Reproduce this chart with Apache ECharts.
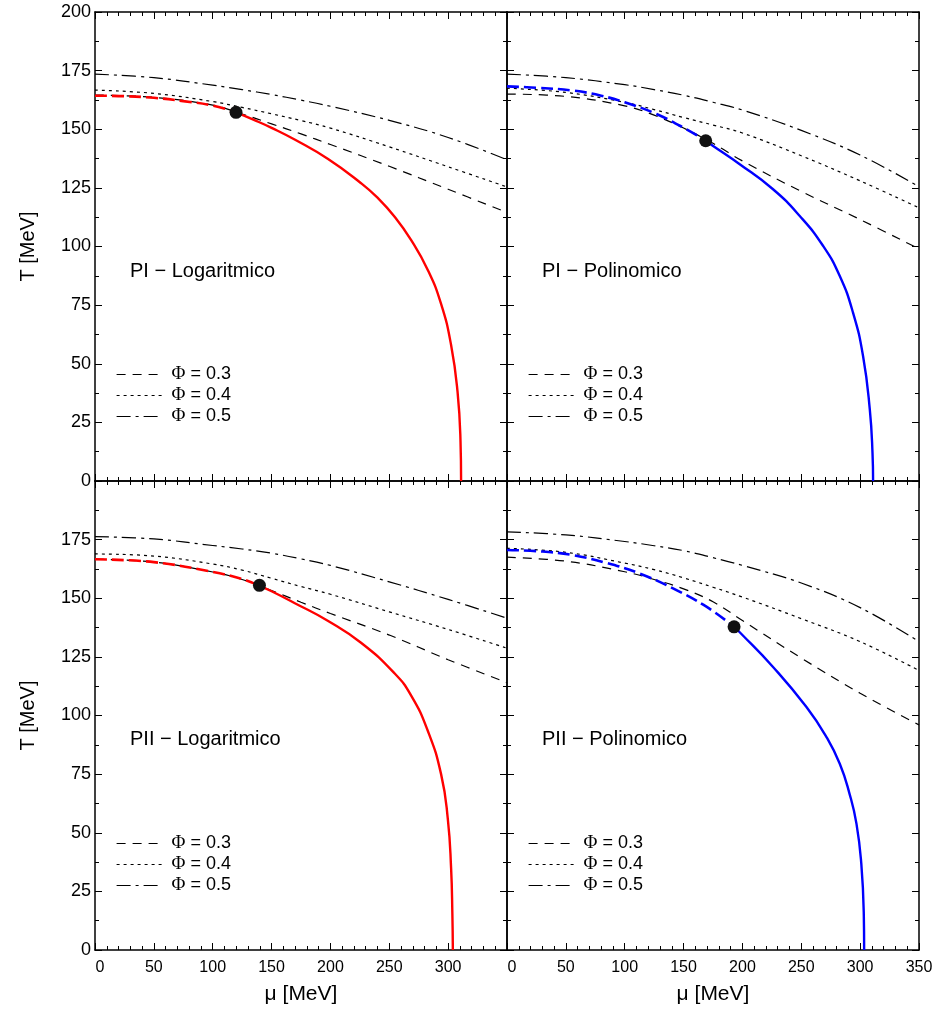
<!DOCTYPE html>
<html>
<head>
<meta charset="utf-8">
<script src="https://cdn.jsdelivr.net/npm/echarts@6/dist/echarts.min.js"></script>
<style>
html,body{margin:0;padding:0;background:#fff;}
#c{width:936px;height:1012px;}
</style>
</head>
<body>
<div id="c"></div>
<script>
// ---------------- data ----------------
const xTicks = [0, 50, 100, 150, 200, 250, 300, 350];
const yTicks = [0, 25, 50, 75, 100, 125, 150, 175, 200];
const panelLabels = ['PI \u2212 Logaritmico', 'PI \u2212 Polinomico', 'PII \u2212 Logaritmico', 'PII \u2212 Polinomico'];
const phiNames = ['\u03A6 = 0.3', '\u03A6 = 0.4', '\u03A6 = 0.5'];

const muGrid = [0, 50, 100, 125, 150, 175, 200, 250, 300, 350];

// Panel 1: PI - Logaritmico
const p1Phi03 = [164.6, 163.6, 160.3, 156.5, 152.3, 148.0, 143.5, 134.2, 124.4, 114.5];
const p1Phi04 = [166.7, 165.3, 161.8, 159.3, 156.6, 153.7, 150.5, 142.5, 134.0, 125.4];
const p1Phi05 = [173.5, 172.0, 168.8, 166.9, 164.8, 162.4, 159.8, 153.8, 146.5, 137.0];
const p1CoMu = [0, 25, 50, 75, 100, 119.8];
const p1CoT  = [164.3, 164.1, 163.4, 162.0, 160.1, 157.2];
const p1FoMu = [119.8, 135, 150, 170, 198, 226, 240, 254, 268.6, 282.7, 294, 302.5, 308, 310.5, 311];
const p1FoT  = [157.2, 154.0, 150.6, 145.5, 137.3, 127.0, 120.8, 113.0, 102.7, 90.0, 75.5, 58.0, 38.0, 17.0, 0];
const p1Crit = [119.8, 157.2];

// Panel 2: PI - Polinomico
const p2Phi03 = [165.0, 164.0, 160.0, 156.0, 150.5, 144.0, 136.5, 123.5, 111.5, 99.0];
const p2Phi04 = [167.5, 165.7, 161.5, 158.4, 155.0, 151.8, 148.4, 138.7, 128.0, 116.5];
const p2Phi05 = [173.5, 172.0, 169.0, 166.9, 164.5, 161.5, 158.2, 149.5, 139.0, 125.5];
const p2CoMu = [0, 25, 56, 80, 100, 127, 152, 168.8];
const p2CoT  = [168.3, 167.7, 166.5, 164.3, 161.5, 156.5, 150.1, 145.1];
const p2FoMu = [168.8, 174.5, 197.7, 226, 248.7, 268.6, 282.7, 294, 302.5, 308.2, 310.5, 311];
const p2FoT  = [145.1, 143.1, 135.1, 124.4, 113.0, 100.2, 87.4, 71.7, 53.2, 30.5, 12.0, 0];
const p2Crit = [168.8, 145.1];

// Panel 3: PII - Logaritmico
const p3Phi03 = [166.6, 165.4, 161.2, 158.0, 153.3, 148.3, 143.5, 134.3, 123.8, 114.0];
const p3Phi04 = [168.9, 168.0, 164.6, 162.0, 158.5, 155.0, 151.7, 144.2, 136.7, 128.7];
const p3Phi05 = [176.3, 175.3, 172.5, 171.0, 169.2, 166.8, 164.0, 157.0, 149.5, 141.5];
const p3CoMu = [0, 50, 100, 125, 139.7];
const p3CoT  = [166.6, 165.4, 161.2, 158.2, 155.3];
const p3FoMu = [139.7, 150, 169.4, 197.7, 226, 254.4, 268.6, 282.7, 294, 299.7, 302.5, 303.6, 304];
const p3FoT  = [155.3, 153.0, 148.0, 140.4, 131.0, 118.0, 108.5, 93.5, 75.0, 56.0, 35.0, 15.0, 0];
const p3Crit = [139.7, 155.5];

// Panel 4: PII - Polinomico
const p4Phi03 = [167.5, 165.8, 161.3, 158.0, 154.0, 148.5, 140.5, 124.5, 109.5, 96.0];
const p4Phi04 = [171.3, 169.6, 165.0, 162.2, 158.7, 154.7, 150.5, 141.3, 131.5, 119.2];
const p4Phi05 = [178.3, 177.0, 174.2, 172.4, 170.3, 167.3, 164.0, 156.5, 146.0, 131.5];
const p4CoMu = [0, 28, 56, 85, 113, 141, 169.4, 192.9];
const p4CoT  = [170.6, 170.0, 168.4, 165.0, 160.5, 154.2, 146.4, 137.8];
const p4FoMu = [192.9, 197.7, 226, 254.4, 271.4, 282.7, 291, 296.9, 301, 303.1, 303.4];
const p4FoT  = [137.8, 135.5, 120.7, 103.6, 90.8, 79.4, 66.6, 53.8, 36.7, 15.3, 0];
const p4Crit = [192.9, 137.8];

// ---------------- build ----------------
const FONT = 'Liberation Sans, Arial, sans-serif';
const panels = [
  {phi: [p1Phi03, p1Phi04, p1Phi05], coMu: p1CoMu, coT: p1CoT, foMu: p1FoMu, foT: p1FoT, crit: p1Crit, color: '#ff0000'},
  {phi: [p2Phi03, p2Phi04, p2Phi05], coMu: p2CoMu, coT: p2CoT, foMu: p2FoMu, foT: p2FoT, crit: p2Crit, color: '#0000ff'},
  {phi: [p3Phi03, p3Phi04, p3Phi05], coMu: p3CoMu, coT: p3CoT, foMu: p3FoMu, foT: p3FoT, crit: p3Crit, color: '#ff0000'},
  {phi: [p4Phi03, p4Phi04, p4Phi05], coMu: p4CoMu, coT: p4CoT, foMu: p4FoMu, foT: p4FoT, crit: p4Crit, color: '#0000ff'}
];
const grids = [
  {left: 95, top: 12, width: 412, height: 469},
  {left: 507, top: 12, width: 412, height: 469},
  {left: 95, top: 481, width: 412, height: 469},
  {left: 507, top: 481, width: 412, height: 469}
];
const phiDash = [[9, 7], [3, 4], [14, 5, 3, 5]];

const zip = (a, b) => a.map((v, i) => [v, b[i]]);

const axisLine = {show: true, onZero: false, lineStyle: {color: '#000', width: 1.5}};
const tick = {show: true, inside: true, length: 7, lineStyle: {color: '#000', width: 1}};

const xAxes = [], yAxes = [], series = [], titles = [], legends = [];
grids.forEach((g, i) => {
  const bottomRow = i >= 2;
  const leftCol = i % 2 === 0;
  xAxes.push({
    type: 'value', gridIndex: i, position: 'bottom', min: xTicks[0], max: xTicks[xTicks.length - 1], interval: 50,
    axisLine, axisTick: tick,
    minorTick: {show: true, splitNumber: 5, length: 4, lineStyle: {color: '#000', width: 1}},
    splitLine: {show: false},
    axisLabel: {
      show: bottomRow, margin: 10, color: '#000', fontSize: 16, fontFamily: FONT,
      showMinLabel: true, showMaxLabel: true,
      formatter: v => (v === 0 ? '{z|0}' : (leftCol && v === 350 ? '' : String(v))),
      rich: {z: {padding: [0, 0, 0, 10], fontSize: 16, fontFamily: FONT, color: '#000'}}
    },
    name: bottomRow ? '\u03BC [MeV]' : '', nameLocation: 'middle', nameGap: 34,
    nameTextStyle: {fontSize: 21, color: '#000', fontFamily: FONT}
  });
  xAxes.push({
    type: 'value', gridIndex: i, position: 'top', min: xTicks[0], max: xTicks[xTicks.length - 1], interval: 50,
    axisLine, axisTick: tick,
    minorTick: {show: true, splitNumber: 5, length: 4, lineStyle: {color: '#000', width: 1}},
    splitLine: {show: false}, axisLabel: {show: false}
  });
  yAxes.push({
    type: 'value', gridIndex: i, position: 'left', min: yTicks[0], max: yTicks[yTicks.length - 1], interval: 25,
    axisLine, axisTick: tick,
    minorTick: {show: true, splitNumber: 2, length: 4, lineStyle: {color: '#000', width: 1}},
    splitLine: {show: false},
    axisLabel: {
      show: leftCol, margin: 4, color: '#000', fontSize: 18, fontFamily: FONT,
      showMinLabel: true, showMaxLabel: true,
      formatter: v => (bottomRow && v === 200 ? '' : String(v))
    },
    name: leftCol ? 'T [MeV]' : '', nameLocation: 'middle', nameGap: 57,
    nameTextStyle: {fontSize: 20, color: '#000', fontFamily: FONT}
  });
  yAxes.push({
    type: 'value', gridIndex: i, position: 'right', min: yTicks[0], max: yTicks[yTicks.length - 1], interval: 25,
    axisLine, axisTick: tick,
    minorTick: {show: true, splitNumber: 2, length: 4, lineStyle: {color: '#000', width: 1}},
    splitLine: {show: false}, axisLabel: {show: false}
  });

  const p = panels[i];
  const xi = i * 2, yi = i * 2;
  p.phi.forEach((arr, k) => {
    series.push({
      type: 'line', name: phiNames[k], xAxisIndex: xi, yAxisIndex: yi,
      data: zip(muGrid, arr), smooth: 0.4, symbol: 'none', silent: true,
      lineStyle: {color: '#000', width: 1.2, type: phiDash[k]}, z: 2
    });
  });
  series.push({
    type: 'line', name: 'crossover' + i, xAxisIndex: xi, yAxisIndex: yi,
    data: zip(p.coMu, p.coT), smooth: 0.4, symbol: 'none', silent: true,
    lineStyle: {color: p.color, width: 2.6, type: [12, 5]}, z: 3
  });
  series.push({
    type: 'line', name: 'first' + i, xAxisIndex: xi, yAxisIndex: yi,
    data: zip(p.foMu, p.foT), smooth: 0.5, symbol: 'none', silent: true,
    lineStyle: {color: p.color, width: 2.4, type: 'solid'}, z: 3
  });
  series.push({
    type: 'scatter', name: 'cep' + i, xAxisIndex: xi, yAxisIndex: yi,
    data: [p.crit], symbol: 'circle', symbolSize: 13, silent: true,
    itemStyle: {color: '#111', opacity: 1}, z: 5
  });

  titles.push({
    text: panelLabels[i], left: g.left + 35, top: g.top + (bottomRow ? 248 : 249), padding: 0,
    textStyle: {fontSize: 20, fontWeight: 'normal', color: '#000', fontFamily: FONT}
  });
  legends.push({
    data: phiNames, orient: 'vertical', left: g.left + 21, top: g.top + 353, padding: 0,
    itemWidth: 45, itemHeight: 14, itemGap: 2, selectedMode: false,
    lineStyle: {width: 1.2},
    itemStyle: {opacity: 0},
    formatter: n => '{p|\u03A6}{t|' + n.slice(1) + '}',
    textStyle: {
      color: '#000',
      rich: {
        p: {fontFamily: 'Liberation Serif, serif', fontSize: 19, color: '#000', lineHeight: 16, padding: [0, 0, 0, 5]},
        t: {fontFamily: FONT, fontSize: 18, color: '#000', lineHeight: 16}
      }
    }
  });
});

const chart = echarts.init(document.getElementById('c'), null, {renderer: 'canvas'});
chart.setOption({
  backgroundColor: '#fff',
  animation: false,
  title: titles,
  legend: legends,
  grid: grids,
  xAxis: xAxes,
  yAxis: yAxes,
  series: series
});
</script>
</body>
</html>
